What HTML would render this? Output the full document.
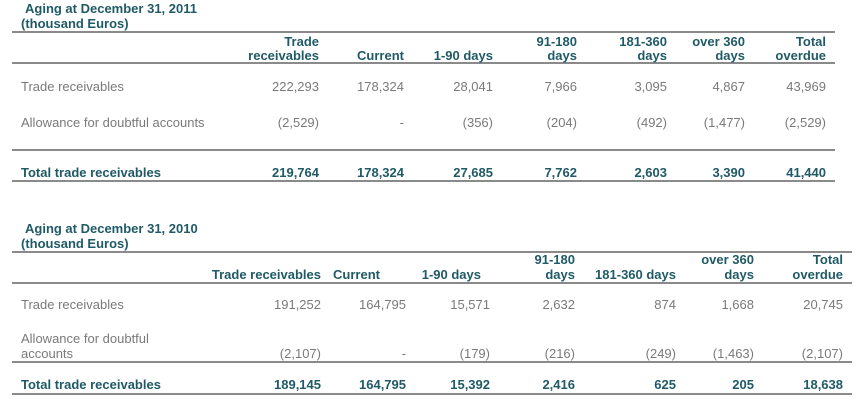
<!DOCTYPE html>
<html><head><meta charset="utf-8">
<style>
body{margin:0;width:860px;height:420px;background:#fff;overflow:hidden;position:relative;font-family:"Liberation Sans",sans-serif}
.t{position:absolute;white-space:nowrap;font-size:13px;line-height:15px}
.h{color:#1f5a66;font-weight:bold}
.g{color:#7a7a7a}
.b{color:#1f5a66;font-weight:bold}
.n{font-family:"Liberation Sans Narrow","Liberation Sans",sans-serif;font-stretch:condensed}
.ln{position:absolute;height:2px;background:#8a8a8a}
</style></head><body>
<div id="root"></div>
<script>
const root=document.getElementById('root');
const headers1=[["Trade","receivables"],["","Current"],["","1-90 days"],["91-180","days"],["181-360","days"],["over 360","days"],["Total","overdue"]];
const rows1=[["Trade receivables",["222,293","178,324","28,041","7,966","3,095","4,867","43,969"]],["Allowance for doubtful accounts",["(2,529)","-","(356)","(204)","(492)","(1,477)","(2,529)"]]];
const total1=["219,764","178,324","27,685","7,762","2,603","3,390","41,440"];
const headers2=[["","Trade receivables"],["","Current"],["","1-90 days"],["91-180","days"],["","181-360 days"],["over 360","days"],["Total","overdue"]];
const rows2=[["Trade receivables",["191,252","164,795","15,571","2,632","874","1,668","20,745"]]];
const allow2=["(2,107)","-","(179)","(216)","(249)","(1,463)","(2,107)"];
const total2=["189,145","164,795","15,392","2,416","625","205","18,638"];
const right1=[319,404,493,577,667,745,826];
const right2=[321,406,490,575,676,754,843];
const hright2=[321,380,481,575,676,754,843];
function txt(s,x,y,cls,r){const d=document.createElement('div');d.className='t '+cls;d.textContent=s;d.style.top=(y-8)+'px';
if(r){d.style.right=(860-x)+'px';d.style.textAlign='right';}else d.style.left=x+'px';root.appendChild(d);return d;}
function line(x1,x2,y){const d=document.createElement('div');d.className='ln';d.style.left=x1+'px';d.style.width=(x2-x1)+'px';d.style.top=(y-1)+'px';root.appendChild(d);return d;}
let e;
// table 1
e=txt("Aging at December 31, 2011",25,9,'h');


e=txt("(thousand Euros)",21,24,'h');


[32,63,150,181].forEach(y=>{e=line(12,835,y);

});
headers1.forEach((h,i)=>{if(h[0]){e=txt(h[0],right1[i],42,'h',1);

}
e=txt(h[1],right1[i],56,'h',1);

});
rows1.forEach((r,k)=>{const y=[87,123][k];e=txt(r[0],21,y,'g');


r[1].forEach((v,i)=>{e=txt(v,right1[i],y,'g',1);

});});
e=txt("Total trade receivables",21,173,'b');


total1.forEach((v,i)=>{e=txt(v,right1[i],173,'b',1);

});
// table 2
e=txt("Aging at December 31, 2010",25,229,'h n');


e=txt("(thousand Euros)",21,244,'h n');


[252,283,362,394].forEach(y=>{e=line(12,852,y);

});
headers2.forEach((h,i)=>{if(h[0]){e=txt(h[0],hright2[i],260,'h n',1);

}
e=txt(h[1],hright2[i],275,'h n',1);

});
rows2.forEach(r=>{e=txt(r[0],21,305,'g n');


r[1].forEach((v,i)=>{e=txt(v,right2[i],305,'g n',1);

});});
e=txt("Allowance for doubtful",21,339,'g n');


e=txt("accounts",21,354,'g n');


allow2.forEach((v,i)=>{e=txt(v,right2[i],354,'g n',1);

});
e=txt("Total trade receivables",21,385,'b n');


total2.forEach((v,i)=>{e=txt(v,right2[i],385,'b n',1);

});
</script>
</body></html>
